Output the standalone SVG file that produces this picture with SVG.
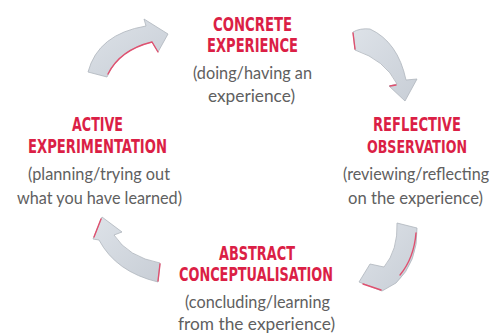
<svg xmlns="http://www.w3.org/2000/svg" width="499" height="333" viewBox="0 0 499 333">
<defs>
<linearGradient id="g" x1="0" y1="0" x2="1" y2="1">
<stop offset="0" stop-color="#dde2e8"/>
<stop offset="1" stop-color="#c8ced6"/>
</linearGradient>
</defs>
<style>
.h{font-family:"DejaVu Sans Condensed","Liberation Sans",sans-serif;font-weight:bold;font-size:19.5px;fill:#db1f46;text-anchor:middle}
.s{font-family:Lato,"Open Sans",sans-serif;font-weight:400;font-size:17.5px;fill:#606060;text-anchor:middle}
.a{fill:url(#g);stroke:#aeb5bd;stroke-width:0.8;stroke-linejoin:round}
.r{fill:none;stroke:#e0506f;stroke-width:1.4;stroke-linecap:round}
</style>
<rect width="499" height="333" fill="#ffffff"/>
<g id="connectors">
<g id="arrow-top-left">
<path class="a" d="M88,72 Q98,34 146,26 L144,19 L168,34 L158,52 L152,42 Q118,50 107,77 Z"/>
<path class="r" d="M108,74 Q120,50 152,42 L158,52"/>
</g>
<g id="arrow-top-right">
<path class="a" d="M353,32 Q360,28 370,29 Q398,42 406,80 L417,79 L405,101 L389,86 L397,84 Q385,60 355,50 Z"/>
<path class="r" d="M353,33 L355,49 M390,86 L396,85"/>
</g>
<g id="arrow-bottom-right">
<path class="a" d="M397,223 L417,228 Q418,262 396,283 L382,291 L359,282 L370,264 L384,267 Q398,250 397,223 Z"/>
<path class="r" d="M416,233 Q414,258 400,275 M363,284 L381,290"/>
</g>
<g id="arrow-bottom-left">
<path class="a" d="M102,217 L122,232 L114,235 Q128,257 160,263 L158,282 Q116,272 99,240 L93,239 Z"/>
<path class="r" d="M101,219 L94,237 M160,264 L158,281"/>
</g>
</g>
<g id="concrete-experience">
<text class="h" x="252.5" y="30.5" textLength="79" lengthAdjust="spacingAndGlyphs">CONCRETE</text>
<text class="h" x="252.5" y="51.5" textLength="91" lengthAdjust="spacingAndGlyphs">EXPERIENCE</text>
<text class="s" x="252.5" y="78.5" textLength="119" lengthAdjust="spacingAndGlyphs">(doing/having an</text>
<text class="s" x="251.5" y="102" textLength="87" lengthAdjust="spacingAndGlyphs">experience)</text>
</g>
<g id="reflective-observation">
<text class="h" x="417" y="131" textLength="88" lengthAdjust="spacingAndGlyphs">REFLECTIVE</text>
<text class="h" x="417" y="152.5" textLength="100" lengthAdjust="spacingAndGlyphs" style="font-size:18.5px">OBSERVATION</text>
<text class="s" x="416" y="180" textLength="146" lengthAdjust="spacingAndGlyphs" style="font-size:16.5px">(reviewing/reflecting</text>
<text class="s" x="415.5" y="203.5" textLength="135" lengthAdjust="spacingAndGlyphs">on the experience)</text>
</g>
<g id="abstract-conceptualisation">
<text class="h" x="257" y="259.5" textLength="76" lengthAdjust="spacingAndGlyphs">ABSTRACT</text>
<text class="h" x="256" y="281" textLength="154" lengthAdjust="spacingAndGlyphs">CONCEPTUALISATION</text>
<text class="s" x="257.5" y="307.5" textLength="145" lengthAdjust="spacingAndGlyphs">(concluding/learning</text>
<text class="s" x="256.5" y="330" textLength="157" lengthAdjust="spacingAndGlyphs">from the experience)</text>
</g>
<g id="active-experimentation">
<text class="h" x="97.5" y="131" textLength="51" lengthAdjust="spacingAndGlyphs">ACTIVE</text>
<text class="h" x="97.5" y="152.5" textLength="139" lengthAdjust="spacingAndGlyphs">EXPERIMENTATION</text>
<text class="s" x="99" y="180" textLength="142" lengthAdjust="spacingAndGlyphs">(planning/trying out</text>
<text class="s" x="99.5" y="203.5" textLength="165" lengthAdjust="spacingAndGlyphs">what you have learned)</text>
</g>
</svg>
